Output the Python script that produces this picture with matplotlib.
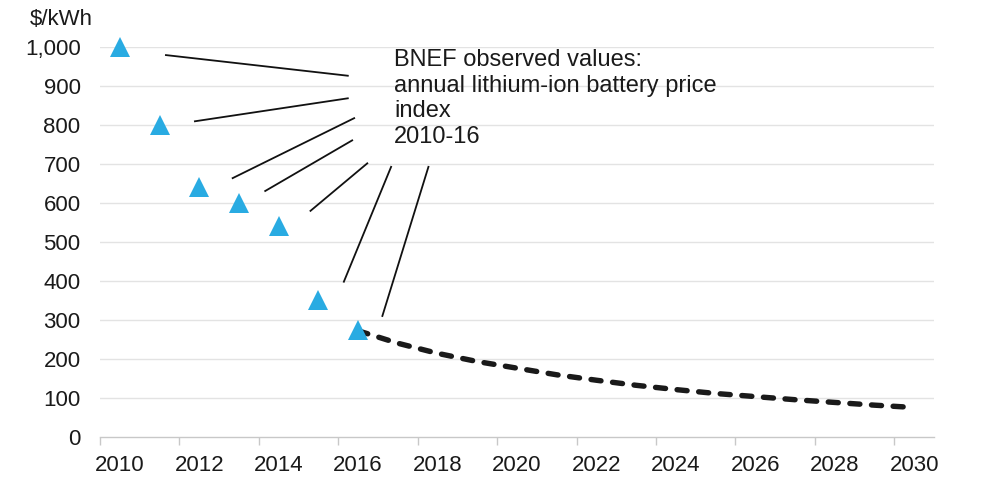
import matplotlib
matplotlib.use("Agg")
import matplotlib.pyplot as plt
import numpy as np

plt.rcParams['font.family'] = ['Liberation Sans', 'DejaVu Sans']

# Observed BNEF values
obs_years = [2010, 2011, 2012, 2013, 2014, 2015, 2016]
obs_values = [1000, 800, 642, 599, 541, 350, 273]

# Projection (dashed)
proj_years = list(range(2016, 2031))
proj_values = [272, 240, 214, 193, 176, 159, 145, 132, 121, 111, 103, 95, 88, 81, 75]

tick_years = list(range(2010, 2031, 2))
y_ticks = list(range(0, 1001, 100))
y_tick_labels = ['0', '100', '200', '300', '400', '500', '600', '700', '800', '900', '1,000']

annotation_text = "BNEF observed values:\nannual lithium-ion battery price\nindex\n2010-16"
# leader lines: (x0, y0, x1, y1) in (year, $/kWh)
leaders = [
    (2011.16, 980, 2015.74, 927),
    (2011.89, 810, 2015.74, 869),
    (2012.84, 664, 2015.90, 818),
    (2013.66, 631, 2015.85, 761),
    (2014.80, 580, 2016.23, 702),
    (2015.64, 398, 2016.83, 693),
    (2016.61, 310, 2017.77, 693),
]

W, H = 1007, 491
fig = plt.figure(figsize=(W / 100, H / 100), dpi=100)
ax = fig.add_axes([100 / W, (H - 436.7) / H, 834 / W, (436.7 - 47.3) / H])

ax.set_xlim(2009.5, 2030.5)
ax.set_ylim(0, 1000)

# gridlines
for v in y_ticks[1:]:
    ax.axhline(v, color='#e3e3e3', lw=1.0, zorder=0)

# leader lines
for x0, y0, x1, y1 in leaders:
    ax.plot([x0, x1], [y0, y1], color='#111111', lw=1.3, zorder=2, clip_on=False)

ax.text(2016.90, 996, annotation_text, fontsize=17, va='top', ha='left',
        color='#1a1a1a', linespacing=1.22)

# projection dashed line
ax.plot(proj_years, proj_values, color='#1a1a1a', lw=3.9, dashes=(1.85, 2.15),
        dash_capstyle='round', zorder=3)

# observed triangles
ax.plot(obs_years, obs_values, linestyle='none', marker='^', markersize=15,
        color='#29abe2', markeredgewidth=0, zorder=4, clip_on=False)

# axes styling
for s in ['top', 'right', 'left']:
    ax.spines[s].set_visible(False)
ax.spines['bottom'].set_color('#c8c8c8')
ax.spines['bottom'].set_linewidth(1.0)

ax.set_yticks(y_ticks)
ax.set_yticklabels(y_tick_labels, fontsize=16, color='#1a1a1a')
ax.tick_params(axis='y', length=0, pad=14)

# major x ticks at category boundaries (marks only), labels at category centers
ax.set_xticks([y - 0.5 for y in tick_years[:-1]] + [2029.5])
ax.set_xticklabels([])
ax.tick_params(axis='x', which='major', length=6, color='#c8c8c8', width=1.0)
ax.set_xticks(tick_years, minor=True)
ax.set_xticklabels([str(y) for y in tick_years], minor=True, fontsize=16, color='#1a1a1a')
ax.tick_params(axis='x', which='minor', length=0, pad=13)

fig.text(30 / W, 1 - 25 / H, '$/kWh', fontsize=16, color='#1a1a1a', ha='left', va='baseline')

fig.savefig('out.png', dpi=100)
